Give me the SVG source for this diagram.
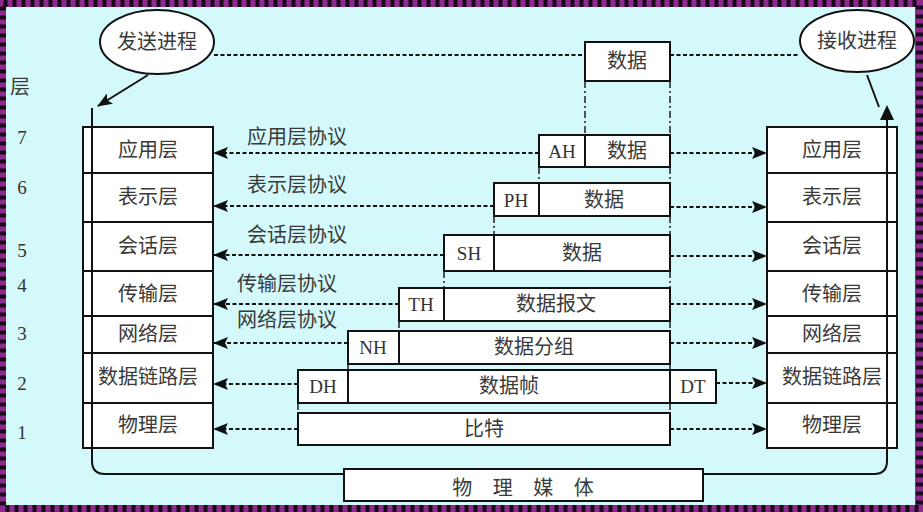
<svg xmlns="http://www.w3.org/2000/svg" width="923" height="512" viewBox="0 0 923 512">
<style>
.cn{font-family:"Noto Sans CJK SC","Noto Sans",sans-serif;font-size:20px;fill:#3a3a3a;dominant-baseline:central;text-anchor:middle}
.pl{font-family:"Noto Sans CJK SC","Noto Sans",sans-serif;font-size:20px;fill:#3a3a3a;dominant-baseline:central;text-anchor:start}
.lat{font-family:"Liberation Serif","DejaVu Serif",serif;font-size:19px;fill:#333;dominant-baseline:central;text-anchor:middle}
.box{fill:#fff;stroke:#111;stroke-width:2}
.ln{fill:none;stroke:#111;stroke-width:2}
.dash{fill:none;stroke:#111;stroke-width:1.8;stroke-dasharray:4 2.5}
.dd{fill:none;stroke:#111;stroke-width:1.4;stroke-dasharray:7 3 2 3}
</style>
<defs>
<marker id="ah" viewBox="0 0 15 12" refX="14" refY="6" markerWidth="15" markerHeight="12" markerUnits="userSpaceOnUse" orient="auto">
<path d="M0,0 L15,6 L0,12 L3,6 Z" fill="#111"/>
</marker>
</defs>
<!-- frame -->
<rect x="0" y="0" width="923" height="512" fill="#8e2a8e"/>
<rect x="3.5" y="3.5" width="916" height="505" fill="none" stroke="#1a0a1a" stroke-width="7" stroke-dasharray="4 5"/>
<rect x="6" y="7" width="909" height="498" fill="#d3f9fb"/>

<g id="layer-numbers">
<text class="cn" x="20" y="85">层</text>
<text class="lat" x="22" y="137">7</text>
<text class="lat" x="22" y="187">6</text>
<text class="lat" x="22" y="250">5</text>
<text class="lat" x="22" y="285">4</text>
<text class="lat" x="22" y="333">3</text>
<text class="lat" x="22" y="383">2</text>
<text class="lat" x="22" y="432">1</text>
</g>

<g id="send-process">
<ellipse cx="157" cy="42" rx="57" ry="32" fill="#fff" stroke="#111" stroke-width="2"/>
<text class="cn" x="157" y="40">发送进程</text>
</g>
<g id="recv-process">
<ellipse cx="857" cy="41" rx="57" ry="31" fill="#fff" stroke="#111" stroke-width="2"/>
<text class="cn" x="857" y="39">接收进程</text>
</g>

<g id="left-stack">
<rect class="box" x="83" y="127" width="130" height="321"/>
<path class="ln" d="M83,173H213M83,222H213M83,271H213M83,316H213M83,353H213M83,403H213"/>
<text class="cn" x="148" y="148">应用层</text>
<text class="cn" x="148" y="195">表示层</text>
<text class="cn" x="148" y="244">会话层</text>
<text class="cn" x="148" y="292">传输层</text>
<text class="cn" x="148" y="332">网络层</text>
<text class="cn" x="148" y="375">数据链路层</text>
<text class="cn" x="148" y="423">物理层</text>
</g>

<g id="right-stack">
<rect class="box" x="767" y="127" width="130" height="321"/>
<path class="ln" d="M767,173H897M767,222H897M767,271H897M767,316H897M767,353H897M767,403H897"/>
<text class="cn" x="832" y="148">应用层</text>
<text class="cn" x="832" y="195">表示层</text>
<text class="cn" x="832" y="244">会话层</text>
<text class="cn" x="832" y="292">传输层</text>
<text class="cn" x="832" y="332">网络层</text>
<text class="cn" x="832" y="375">数据链路层</text>
<text class="cn" x="832" y="423">物理层</text>
</g>

<g id="connectors">
<path class="ln" d="M92,108V461Q92,474 105,474H874Q887,474 887,461V118"/>
<path d="M887,105 L880,120 L894,120 Z" fill="#111"/>
<line class="ln" x1="148" y1="75" x2="98" y2="106" marker-end="url(#ah)"/>
<line class="ln" x1="867" y1="75" x2="879" y2="107"/>
<line class="dash" x1="214" y1="55" x2="585" y2="55"/>
<line class="dash" x1="670" y1="55" x2="800" y2="55"/>
<path class="dd" d="M585,81V135M670,81V135M539,167V183M670,167V183M494,216V235M670,216V235M444,271V288M670,271V288M399,321V331M670,321V331M348,364V370M670,364V370M298,403V413M670,403V413"/>
<line class="dash" x1="539" y1="153" x2="214" y2="153" marker-end="url(#ah)"/>
<line class="dash" x1="494" y1="206" x2="214" y2="206" marker-end="url(#ah)"/>
<line class="dash" x1="444" y1="255" x2="214" y2="255" marker-end="url(#ah)"/>
<line class="dash" x1="399" y1="304" x2="214" y2="304" marker-end="url(#ah)"/>
<line class="dash" x1="348" y1="343" x2="214" y2="343" marker-end="url(#ah)"/>
<line class="dash" x1="298" y1="384" x2="214" y2="384" marker-end="url(#ah)"/>
<line class="dash" x1="298" y1="429" x2="214" y2="429" marker-end="url(#ah)"/>
<line class="dash" x1="670" y1="153" x2="766" y2="153" marker-end="url(#ah)"/>
<line class="dash" x1="670" y1="207" x2="766" y2="207" marker-end="url(#ah)"/>
<line class="dash" x1="670" y1="256" x2="766" y2="256" marker-end="url(#ah)"/>
<line class="dash" x1="670" y1="304" x2="766" y2="304" marker-end="url(#ah)"/>
<line class="dash" x1="670" y1="343" x2="766" y2="343" marker-end="url(#ah)"/>
<line class="dash" x1="716" y1="383" x2="766" y2="383" marker-end="url(#ah)"/>
<line class="dash" x1="670" y1="429" x2="766" y2="429" marker-end="url(#ah)"/>
</g>

<g id="protocol-labels">
<text class="pl" x="247" y="135">应用层协议</text>
<text class="pl" x="247" y="183">表示层协议</text>
<text class="pl" x="247" y="233">会话层协议</text>
<text class="pl" x="237" y="282">传输层协议</text>
<text class="pl" x="237" y="318">网络层协议</text>
</g>

<g id="pdu-data">
<rect class="box" x="585" y="42" width="85" height="39"/>
<text class="cn" x="627" y="59">数据</text>
</g>
<g id="pdu-app">
<rect class="box" x="539" y="135" width="131" height="32"/>
<line class="ln" x1="585" y1="135" x2="585" y2="167"/>
<text class="lat" x="562" y="151">AH</text>
<text class="cn" x="627" y="149">数据</text>
</g>
<g id="pdu-pres">
<rect class="box" x="494" y="183" width="176" height="33"/>
<line class="ln" x1="539" y1="183" x2="539" y2="216"/>
<text class="lat" x="516" y="200">PH</text>
<text class="cn" x="604" y="198">数据</text>
</g>
<g id="pdu-sess">
<rect class="box" x="444" y="235" width="226" height="36"/>
<line class="ln" x1="494" y1="235" x2="494" y2="271"/>
<text class="lat" x="469" y="253">SH</text>
<text class="cn" x="582" y="251">数据</text>
</g>
<g id="pdu-trans">
<rect class="box" x="399" y="288" width="271" height="33"/>
<line class="ln" x1="444" y1="288" x2="444" y2="321"/>
<text class="lat" x="421" y="304">TH</text>
<text class="cn" x="556" y="302">数据报文</text>
</g>
<g id="pdu-net">
<rect class="box" x="348" y="331" width="322" height="33"/>
<line class="ln" x1="399" y1="331" x2="399" y2="364"/>
<text class="lat" x="373" y="347">NH</text>
<text class="cn" x="534" y="345">数据分组</text>
</g>
<g id="pdu-link">
<rect class="box" x="298" y="370" width="418" height="33"/>
<line class="ln" x1="348" y1="370" x2="348" y2="403"/>
<line class="ln" x1="670" y1="370" x2="670" y2="403"/>
<text class="lat" x="323" y="386">DH</text>
<text class="cn" x="509" y="384">数据帧</text>
<text class="lat" x="693" y="386">DT</text>
</g>
<g id="pdu-phys">
<rect class="box" x="298" y="413" width="372" height="32"/>
<text class="cn" x="484" y="427">比特</text>
</g>
<g id="medium">
<rect class="box" x="344" y="469" width="359" height="32"/>
<text class="cn" x="527" y="486" style="letter-spacing:8px" xml:space="preserve">物 理 媒 体</text>
</g>
</svg>
